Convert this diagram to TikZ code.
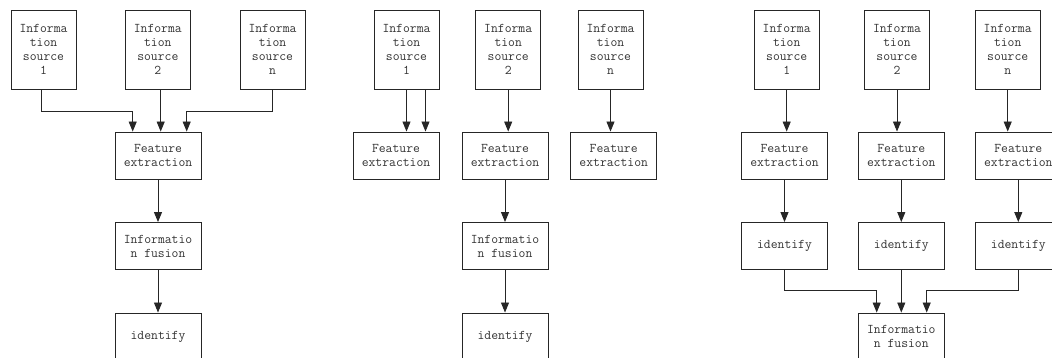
\documentclass[tikz,border=0pt]{standalone}
\usepackage{fontspec}
\usetikzlibrary{arrows.meta}
\begin{document}
\begin{tikzpicture}[x=1pt,y=1pt,
  lbl/.style={draw=black!85, line width=0.9pt, align=center, inner sep=0pt, text=black!80,
    font=\ttfamily\fontsize{13.3}{14}\selectfont},
  srcbox/.style={lbl, minimum width=65pt, minimum height=79pt},
  procbox/.style={lbl, minimum width=86pt, minimum height=47pt},
  arr/.style={draw=black!85, line width=0.9pt, -{Triangle[width=8pt,length=10pt]}}]
\useasboundingbox (0,0) rectangle (1052,358);
\clip (0,0) rectangle (1052,358);
% ---------- Panel 1 ----------
\node[srcbox] (a1) at (43.5,308.5) {Informa\\tion\\source\\1};
\node[srcbox] (a2) at (157.8,308.5) {Informa\\tion\\source\\2};
\node[srcbox] (an) at (272.5,308.5) {Informa\\tion\\source\\n};
\node[procbox] (afe) at (158,202.5) {Feature\\extraction};
\node[procbox] (aif) at (158,112) {Informatio\\n fusion};
\node[procbox] (aid) at (158,21.5) {identify};
\coordinate (abend) at (0,247);
\coordinate (afeL) at ([xshift=-25.3pt]afe.north);
\coordinate (afeR) at ([xshift=28.7pt]afe.north);
\coordinate (a1o) at ([xshift=-2.5pt]a1.south);
\coordinate (a2o) at ([xshift=2.9pt]a2.south);
\draw[arr] (a1o) |- (abend -| afeL) -- (afeL);
\draw[arr] (a2o) -- (a2o |- afe.north);
\draw[arr] (an.south) |- (abend -| afeR) -- (afeR);
\draw[arr] (afe) -- (aif);
\draw[arr] (aif) -- (aid);
% ---------- Panel 2 ----------
\node[srcbox] (b1) at (406.5,308.5) {Informa\\tion\\source\\1};
\node[srcbox] (b2) at (508.2,308.5) {Informa\\tion\\source\\2};
\node[srcbox] (bn) at (610.5,308.5) {Informa\\tion\\source\\n};
\node[procbox] (bfe1) at (396,202.5) {Feature\\extraction};
\node[procbox] (bfe2) at (505,202.5) {Feature\\extraction};
\node[procbox] (bfe3) at (613.7,202.5) {Feature\\extraction};
\node[procbox] (bif) at (505,112) {Informatio\\n fusion};
\node[procbox] (bid) at (505,21.5) {identify};
\coordinate (b1o) at ([xshift=19pt]b1.south);
\draw[arr] (b1.south) -- (b1.south |- bfe1.north);
\draw[arr] (b1o) -- (b1o |- bfe1.north);
\draw[arr] (b2.south) -- (b2.south |- bfe2.north);
\draw[arr] (bn.south) -- (bn.south |- bfe3.north);
\draw[arr] (bfe2) -- (bif);
\draw[arr] (bif) -- (bid);
% ---------- Panel 3 ----------
\node[srcbox] (c1) at (786.7,308.5) {Informa\\tion\\source\\1};
\node[srcbox] (c2) at (897,308.5) {Informa\\tion\\source\\2};
\node[srcbox] (cn) at (1007.7,308.5) {Informa\\tion\\source\\n};
\node[procbox] (cfe1) at (784.5,202.5) {Feature\\extraction};
\node[procbox] (cfe2) at (901.3,202.5) {Feature\\extraction};
\node[procbox] (cfe3) at (1018.3,202.5) {Feature\\extraction};
\node[procbox] (cid1) at (784.5,112) {identify};
\node[procbox] (cid2) at (901.3,112) {identify};
\node[procbox] (cid3) at (1018.3,112) {identify};
\node[procbox] (cif) at (901.3,21.5) {Informatio\\n fusion};
\coordinate (cbend) at (0,68);
\coordinate (cifL) at ([xshift=-24.6pt]cif.north);
\coordinate (cifR) at ([xshift=25.4pt]cif.north);
\draw[arr] (c1.south) -- (c1.south |- cfe1.north);
\draw[arr] (c2.south) -- (c2.south |- cfe2.north);
\draw[arr] (cn.south) -- (cn.south |- cfe3.north);
\draw[arr] (cfe1) -- (cid1);
\draw[arr] (cfe2) -- (cid2);
\draw[arr] (cfe3) -- (cid3);
\draw[arr] (cid1.south) |- (cbend -| cifL) -- (cifL);
\draw[arr] (cid2) -- (cif);
\draw[arr] (cid3.south) |- (cbend -| cifR) -- (cifR);
\end{tikzpicture}
\end{document}
